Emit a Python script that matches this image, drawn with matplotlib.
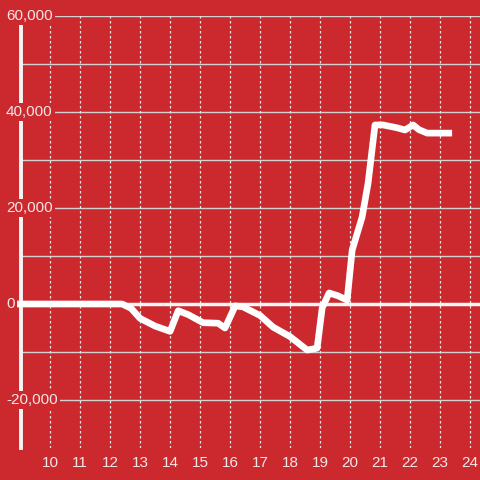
import matplotlib
matplotlib.use("Agg")
import matplotlib.pyplot as plt
import numpy as np

plt.rcParams["font.family"] = ["Liberation Sans", "DejaVu Sans"]

# values
hours = [8.9, 12.4, 12.7, 13.0, 13.5, 14.0, 14.27, 14.6, 15.1, 15.6, 15.83, 16.17, 16.43,
         17.0, 17.43, 18.0, 18.57, 18.9, 19.07, 19.3, 19.6, 19.9, 20.07, 20.4, 20.6,
         20.83, 21.1, 21.57, 21.83, 22.1, 22.3, 22.57, 23.4]
values = [0, 0, -900, -3000, -4600, -5700, -1400, -2200, -3900, -4000, -5000, -400, -600,
          -2400, -4800, -6800, -9600, -9200, -800, 2300, 1700, 800, 11250, 18100, 25200,
          37300, 37300, 36700, 36250, 37300, 36300, 35600, 35600]

yticks = [-20000, 0, 20000, 40000, 60000]
ygrid = [-20000, -10000, 10000, 20000, 30000, 40000, 50000, 60000]
xticks = list(range(10, 25))

bg = "#cc292e"
txt = "#f3e6e6"

fig = plt.figure(figsize=(4.8, 4.8), dpi=100, facecolor=bg)
ax = fig.add_axes([21/480, 32/480, 459/480, 432/480], facecolor=bg)
ax.set_xlim(9.03, 24.33)
ax.set_ylim(-30000, 60000)

for s in ax.spines.values():
    s.set_visible(False)

# grid
for y in ygrid:
    ax.axhline(y, color="#d2d2d2", lw=1, zorder=1)
for x in xticks:
    ax.axvline(x, color="#e6e6e6", lw=0.9, ls=(0, (2, 2)), zorder=1)

# left axis line and zero line
ax.axvline(9.03, color="#f5f5f5", lw=2.8, zorder=2, clip_on=False)
ax.axhline(0, color="#f5f5f5", lw=2.5, zorder=2)

ax.plot(hours, values, color="white", lw=4.8, zorder=3, clip_on=False,
        solid_joinstyle="round", solid_capstyle="butt")

ax.set_xticks(xticks)
ax.set_xticklabels([str(x) for x in xticks])
ax.tick_params(axis="x", length=0, pad=6, colors=txt, labelsize=11)
ax.set_yticks([])

for y in yticks:
    ax.text(-15/459, y, f"{y:,}", transform=ax.get_yaxis_transform(),
            ha="left", va="center", fontsize=11, color=txt, zorder=5,
            bbox=dict(facecolor=bg, edgecolor="none", pad=1.5), clip_on=False)

fig.savefig("out.png", dpi=100, facecolor=bg)
